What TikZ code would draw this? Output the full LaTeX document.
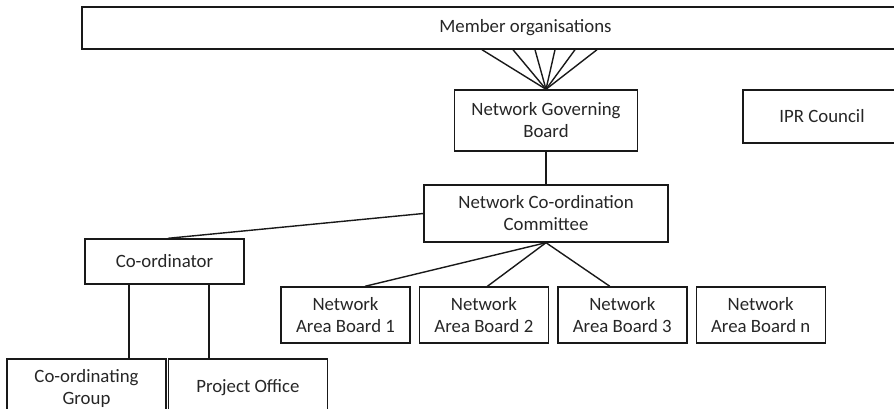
\documentclass[tikz,border=0pt]{standalone}
\usepackage{fontspec}
\setmainfont{Carlito}
\usepackage{tikz}
\usetikzlibrary{calc}
\usetikzlibrary{positioning}
\tikzset{
  myline/.style={
    draw=black!90,
    line width=1.4pt,
  },
  mybox/.style={
    draw=black!90,
    shape=rectangle,
    line width=1.4pt,
    align=center,
    inner sep=0pt,
    text=black!85,
    font=\fontsize{18.8}{22}\selectfont
  },
  myareabox/.style={
    mybox,
    minimum width=129pt,
    minimum height=56pt,
  },
  mylowbox/.style={
    mybox,
    minimum width=159pt,
    minimum height=58pt,
  },
}

\begin{document}
\begin{tikzpicture}[x=1pt, y=-1pt]
    \useasboundingbox (0,0) rectangle (894,409);
    \clip (0,0) rectangle (894,409);

    \node[mybox, minimum width=887pt, minimum height=42pt] (members) at (525.5,28) {Member organisations};
    \node[mybox, minimum width=183pt, minimum height=61pt] (governing) at (546,120.5) {Network Governing\\Board};
    \node[mybox, minimum width=158pt, minimum height=53pt] (ipr) at (822,116.5) {IPR Council};
    \node[mybox, minimum width=244pt, minimum height=57pt] (coordination) at (546,213.5) {Network Co-ordination\\Committee};
    \node[mybox, minimum width=159pt, minimum height=45pt] (coordinator) at (164.5,261.5) {Co-ordinator};

    \node[myareabox] (area1) at (345.5,315)     {Network\\Area Board 1};
    \node[myareabox] (area2) [right=8pt of area1] {Network\\Area Board 2};
    \node[myareabox] (area3) [right=8pt of area2] {Network\\Area Board 3};
    \node[myareabox] (arean) [right=8pt of area3] {Network\\Area Board n};

    \node[mylowbox] (group)  at (86.5,388)         {Co-ordinating\\Group};
    \node[mylowbox] (office) [right=1pt of group]  {Project Office};

    \foreach \dx in {-64,-33,-11,9,29,51}
      \draw[myline] (governing.north) -- ([xshift=\dx pt]governing.north |- members.south);

    \draw[myline] (governing) -- (coordination);
    \draw[myline] (coordination.west) -- ([xshift=3.5pt]coordinator.north);

    \draw[myline] (coordination.south) -- ([xshift=19.5pt]area1.north);
    \draw[myline] (coordination.south) -- ([xshift=3.5pt]area2.north);
    \draw[myline] (coordination.south) -- ([xshift=-12.5pt]area3.north);

    \draw[myline] ([xshift=-35.5pt]coordinator.south) -- ([xshift=-35.5pt]coordinator.south |- group.north);
    \draw[myline] ([xshift=44.5pt]coordinator.south) -- ([xshift=44.5pt]coordinator.south |- office.north);
  \end{tikzpicture}
\end{document}
